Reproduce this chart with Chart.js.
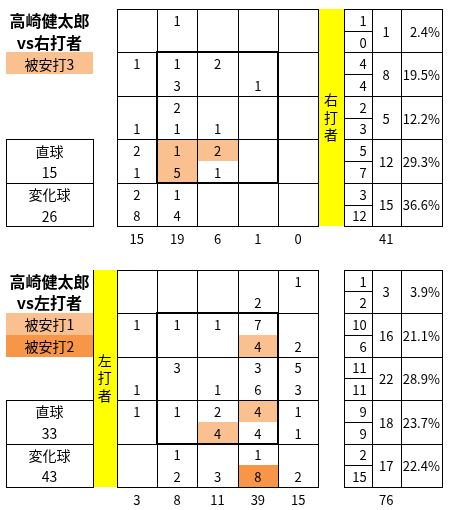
<!DOCTYPE html>
<html lang="ja">
<head>
<meta charset="utf-8">
<script src="https://cdn.jsdelivr.net/npm/chart.js@4"></script>
<style>
  html, body { margin: 0; padding: 0; background: #fff; }
  #wrap { position: relative; width: 449px; height: 510px; }
</style>
</head>
<body>
<div id="wrap"><canvas id="zoneChart"></canvas></div>
<script>
const pitcher = '高崎健太郎';
const sides = ['vs右打者', 'vs左打者'];
const batterLabels = ['右打者', '左打者'];
const pitchTypes = ['直球', '変化球'];

// 右打者 — upper number in a cell = 直球, lower = 変化球 (rows top→bottom, cols left→right)
const rFast = [
  [null, 1, null, null, null],
  [1, 1, 2, null, null],
  [null, 2, null, null, null],
  [2, 1, 2, null, null],
  [2, 1, null, null, null]
];
const rBreak = [
  [null, null, null, null, null],
  [null, 3, null, 1, null],
  [1, 1, 1, null, null],
  [1, 5, 1, null, null],
  [8, 4, null, null, null]
];
const rColTotals = [15, 19, 6, 1, 0];
const rRowFast = [1, 4, 2, 5, 3];
const rRowBreak = [0, 4, 3, 7, 12];
const rRowTotals = [1, 8, 5, 12, 15];
const rRowPct = ['2.4%', '19.5%', '12.2%', '29.3%', '36.6%'];
const rTotal = 41;
const rPitchTotals = [15, 26];
// hits: [row, col, half (0 upper / 1 lower), level]
const rHits = [[3, 1, 0, 1], [3, 1, 1, 1], [3, 2, 0, 1]];
const rHitLegend = ['被安打3'];

// 左打者
const lFast = [
  [null, null, null, null, 1],
  [1, 1, 1, 7, null],
  [null, 3, null, 3, 5],
  [1, 1, 2, 4, 1],
  [null, 1, null, 1, null]
];
const lBreak = [
  [null, null, null, 2, null],
  [null, null, null, 4, 2],
  [1, null, 1, 6, 3],
  [null, null, 4, 4, 1],
  [null, 2, 3, 8, 2]
];
const lColTotals = [3, 8, 11, 39, 15];
const lRowFast = [1, 10, 11, 9, 2];
const lRowBreak = [2, 6, 11, 9, 15];
const lRowTotals = [3, 16, 22, 18, 17];
const lRowPct = ['3.9%', '21.1%', '28.9%', '23.7%', '22.4%'];
const lTotal = 76;
const lPitchTotals = [33, 43];
const lHits = [[1, 3, 1, 1], [3, 2, 1, 1], [3, 3, 0, 1], [4, 3, 1, 2]];
const lHitLegend = ['被安打1', '被安打2'];

// layout, in grid units (1 unit = one zone column / row)
const X_MIN = -2.889, X_MAX = 8.236;
const Y_MIN = -0.207, Y_MAX = 11.53;
const labelBox = [-2.74, -0.59];
const subCol = [5.63, 6.32];
const totalCol = [6.32, 7.04];
const pctCol = [7.04, 8.06];
const sumRow = 5.27;
const hitColors = { 1: '#FAC090', 2: '#F79646' };
const FONT = '"Noto Sans CJK JP", "Noto Sans", sans-serif';

const panels = [
  { off: 0, fast: rFast, brk: rBreak, colTotals: rColTotals, rowFast: rRowFast, rowBreak: rRowBreak,
    rowTotals: rRowTotals, pct: rRowPct, total: rTotal, pitchTotals: rPitchTotals, hits: rHits,
    legend: rHitLegend, side: sides[0], batter: batterLabels[0], band: [5, 5.63] },
  { off: 6, fast: lFast, brk: lBreak, colTotals: lColTotals, rowFast: lRowFast, rowBreak: lRowBreak,
    rowTotals: lRowTotals, pct: lRowPct, total: lTotal, pitchTotals: lPitchTotals, hits: lHits,
    legend: lHitLegend, side: sides[1], batter: batterLabels[1], band: [-0.59, 0] }
];

const mid = a => (a[0] + a[1]) / 2;
const pt = (x, y, t, align) => ({ x, y, t: String(t), align: align || 'center' });

const cellPts = [], labelPts = [], titlePts = [], batterPts = [];
panels.forEach(p => {
  p.fast.forEach((row, r) => row.forEach((v, c) => { if (v !== null) cellPts.push(pt(c + 0.5, p.off + r + 0.25, v)); }));
  p.brk.forEach((row, r) => row.forEach((v, c) => { if (v !== null) cellPts.push(pt(c + 0.5, p.off + r + 0.75, v)); }));
  p.colTotals.forEach((v, c) => cellPts.push(pt(c + 0.5, p.off + sumRow, v)));
  p.rowFast.forEach((v, r) => cellPts.push(pt(subCol[1], p.off + r + 0.25, v, 'right')));
  p.rowBreak.forEach((v, r) => cellPts.push(pt(subCol[1], p.off + r + 0.75, v, 'right')));
  p.rowTotals.forEach((v, r) => cellPts.push(pt(mid(totalCol), p.off + r + 0.5, v)));
  p.pct.forEach((v, r) => cellPts.push(pt(pctCol[1], p.off + r + 0.5, v, 'right2')));
  cellPts.push(pt(mid(totalCol), p.off + sumRow, p.total));
  titlePts.push(pt(mid(labelBox), p.off + 0.26, pitcher));
  titlePts.push(pt(mid(labelBox), p.off + 0.75, p.side));
  p.legend.forEach((t, i) => labelPts.push(pt(mid(labelBox), p.off + 1.25 + i * 0.5, t)));
  pitchTypes.forEach((t, i) => {
    labelPts.push(pt(mid(labelBox), p.off + 3.25 + i, t));
    labelPts.push(pt(mid(labelBox), p.off + 3.75 + i, p.pitchTotals[i]));
  });
  [...p.batter].forEach((ch, i) => batterPts.push(pt(mid(p.band), p.off + 2.47 + (i - 1) * 0.41, ch)));
});

// fills + grid lines, positioned through the chart scales
const tablePlugin = {
  id: 'zoneTable',
  beforeDatasetsDraw(chart) {
    const ctx = chart.ctx;
    const X = v => Math.round(chart.scales.x.getPixelForValue(v));
    const Y = v => Math.round(chart.scales.y.getPixelForValue(v));
    const fill = (x1, y1, x2, y2, color) => { ctx.fillStyle = color; ctx.fillRect(X(x1), Y(y1), X(x2) - X(x1), Y(y2) - Y(y1)); };
    const hLine = (x1, x2, y, w) => { ctx.fillStyle = '#000'; ctx.fillRect(X(x1) - (w > 1 ? 1 : 0), Y(y) - (w > 1 ? 1 : 0), X(x2) - X(x1) + w, w); };
    const vLine = (x, y1, y2, w) => { ctx.fillStyle = '#000'; ctx.fillRect(X(x) - (w > 1 ? 1 : 0), Y(y1) - (w > 1 ? 1 : 0), w, Y(y2) - Y(y1) + w); };

    ctx.save();
    panels.forEach(p => {
      const o = p.off;
      // yellow batter band
      fill(p.band[0], o, p.band[1], o + 5, '#FFFF00');
      // hit highlights
      p.hits.forEach(([r, c, h, lv]) => fill(c, o + r + h * 0.5, c + 1, o + r + h * 0.5 + 0.5, hitColors[lv]));
      // hit legend boxes
      p.legend.forEach((t, i) => fill(labelBox[0], o + 1 + i * 0.5, labelBox[1], o + 1.5 + i * 0.5, hitColors[i + 1]));

      // zone grid
      for (let i = 0; i <= 5; i++) {
        vLine(i, o, o + 5, 1);
        hLine(0, 5, o + i, 1);
      }
      // strike zone
      hLine(1, 4, o + 1, 2); hLine(1, 4, o + 4, 2);
      vLine(1, o + 1, o + 4, 2); vLine(4, o + 1, o + 4, 2);

      // right table
      for (let r = 0; r <= 5; r++) hLine(subCol[0], pctCol[1], o + r, 1);
      for (let r = 0; r < 5; r++) hLine(subCol[0], subCol[1], o + r + 0.5, 1);
      [subCol[0], subCol[1], totalCol[1], pctCol[1]].forEach(x => vLine(x, o, o + 5, 1));

      // band edges
      vLine(p.band[0], o, o + 5, 1);

      // pitch-type box
      hLine(labelBox[0], labelBox[1], o + 3, 1);
      hLine(labelBox[0], labelBox[1], o + 4, 1);
      hLine(labelBox[0], labelBox[1], o + 5, 1);
      vLine(labelBox[0], o + 3, o + 5, 1);
      vLine(labelBox[1], o + 3, o + 5, 1);
    });
    ctx.restore();
  }
};

// draws each dataset point as its text
const textPlugin = {
  id: 'pointText',
  afterDatasetsDraw(chart) {
    const ctx = chart.ctx;
    ctx.save();
    ctx.fillStyle = '#000';
    ctx.textBaseline = 'middle';
    chart.data.datasets.forEach((ds, i) => {
      ctx.font = ds.textFont;
      chart.getDatasetMeta(i).data.forEach((el, j) => {
        const d = ds.data[j];
        if (d.align === 'right') { ctx.textAlign = 'right'; ctx.fillText(d.t, el.x - 5, el.y + 1); }
        else if (d.align === 'right2') { ctx.textAlign = 'right'; ctx.fillText(d.t, el.x - 2, el.y + 1); }
        else { ctx.textAlign = 'center'; ctx.fillText(d.t, el.x, el.y + 1); }
      });
    });
    ctx.restore();
  }
};

new Chart(document.getElementById('zoneChart'), {
  type: 'scatter',
  data: {
    datasets: [
      { label: 'cells', data: cellPts, textFont: '13px ' + FONT },
      { label: 'labels', data: labelPts, textFont: '14px ' + FONT },
      { label: 'titles', data: titlePts, textFont: 'bold 16px ' + FONT },
      { label: 'batter', data: batterPts, textFont: '14px ' + FONT }
    ]
  },
  options: {
    responsive: true,
    maintainAspectRatio: false,
    animation: false,
    events: [],
    layout: { padding: 0 },
    elements: { point: { radius: 0, hoverRadius: 0 } },
    scales: {
      x: { type: 'linear', display: false, min: X_MIN, max: X_MAX },
      y: { type: 'linear', display: false, reverse: true, min: Y_MIN, max: Y_MAX }
    },
    plugins: { legend: { display: false }, tooltip: { enabled: false } }
  },
  plugins: [tablePlugin, textPlugin]
});
</script>
</body>
</html>
